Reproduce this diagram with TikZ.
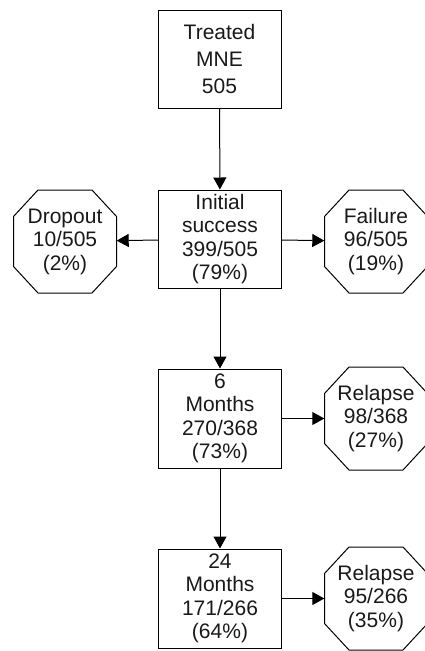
\documentclass[tikz,border=0pt]{standalone}
\usepackage{fontspec}
\setmainfont{Liberation Sans}
\usetikzlibrary{arrows.meta}
\begin{document}
\begin{tikzpicture}[x=1pt,y=-1pt,
  txt/.style={align=center,text=black!90,font=\fontsize{21}{23.5}\selectfont,inner sep=0pt},
  stepbox/.style={txt,draw,line width=1pt,rectangle,minimum width=123pt,minimum height=98pt},
  octo/.style={txt,rectangle,minimum width=103pt,minimum height=103pt},
  octline/.style={line width=1pt,line join=miter},
  arr/.style={line width=1pt,-{Triangle[length=12pt,width=13pt]}}]
\useasboundingbox (0,0) rectangle (425,651);
\node[stepbox,font=\fontsize{21}{27}\selectfont] (t) at (219.5,59) {Treated\\MNE\\505};
\node[stepbox] (s) at (220,239) {Initial\\success\\399/505\\(79\%)};
\node[stepbox,minimum height=99pt] (m6) at (220,418.5) {6\\Months\\270/368\\(73\%)};
\node[stepbox,minimum height=99pt] (m24) at (220,598.5) {24\\Months\\171/266\\(64\%)};
\node[octo] (d) at (65,241.5) {Dropout\\10/505\\(2\%)};
\node[octo] (f) at (376,241.5) {Failure\\96/505\\(19\%)};
\node[octo] (r1) at (376,418.5) {Relapse\\98/368\\(27\%)};
\node[octo] (r2) at (376,598.5) {Relapse\\95/266\\(35\%)};
\foreach \n in {d,f,r1,r2}
  \draw[octline,shift={(\n.center)}] (-27,-51.5) -- (27,-51.5) -- (51.5,-25) -- (51.5,25) -- (27,51.5) -- (-27,51.5) -- (-51.5,25) -- (-51.5,-25) -- cycle;
\draw[arr] (t) -- (s);
\draw[arr] (s) -- (m6);
\draw[arr] (m6) -- (m24);
\draw[arr] (s) -- (d);
\draw[arr] (s) -- (f);
\draw[arr] (m6) -- (r1);
\draw[arr] (m24) -- (r2);
\end{tikzpicture}
\end{document}
